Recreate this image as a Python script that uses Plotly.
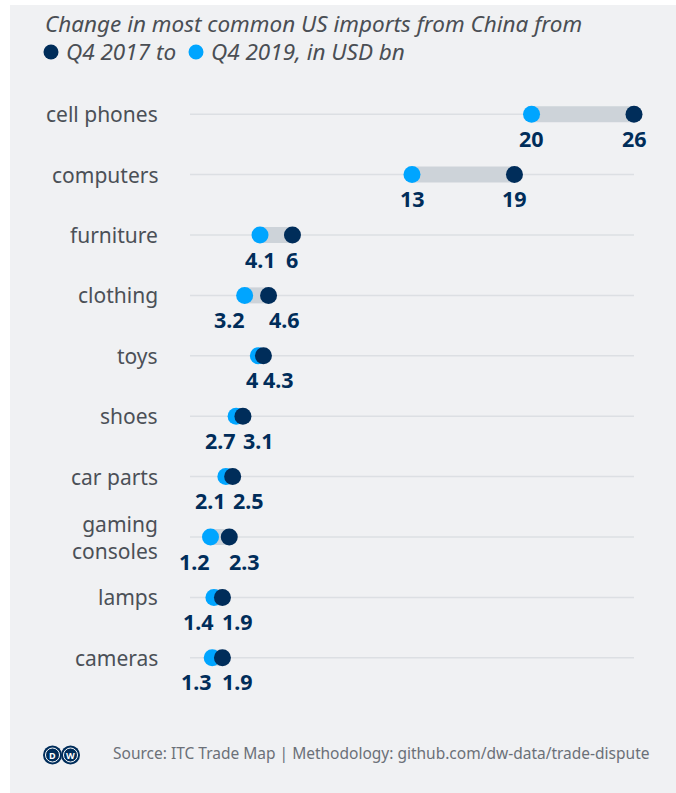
import plotly.graph_objects as go

# ---- data (USD bn) ----
categories = ["cell phones", "computers", "furniture", "clothing", "toys",
              "shoes", "car parts", "gaming<br>consoles", "lamps", "cameras"]
q4_2017 = [26, 19, 6, 4.6, 4.3, 3.1, 2.5, 2.3, 1.9, 1.9]
q4_2019 = [20, 13, 4.1, 3.2, 4, 2.7, 2.1, 1.2, 1.4, 1.3]
x_max = 26

# ---- styling ----
W, H = 676, 793
ML, MR, MT, MB = 190, 42, 84, 105
PANEL = "#f0f1f3"
NAVY = "#002d5a"
LIGHT = "#00a5ff"
BAR = "#cdd3d9"
GRID = "#dcdfe3"
LABEL_GREY = "#4b5057"
FONT = "Noto Sans"

PW, PH = W - ML - MR, H - MT - MB


def px_x(px):
    return (px - ML) / PW


def px_y(py):
    return (H - MB - py) / PH


def dot(cx, cy, r, color):
    return dict(type="circle", xref="paper", yref="paper",
                x0=px_x(cx - r), x1=px_x(cx + r),
                y0=px_y(cy + r), y1=px_y(cy - r),
                fillcolor=color, line=dict(width=0))


rows = list(range(len(categories)))

fig = go.Figure()

# connector bars between the two quarters
bx, by = [], []
for i in rows:
    bx += [q4_2019[i], q4_2017[i], None]
    by += [i, i, None]
fig.add_trace(go.Scatter(x=bx, y=by, mode="lines",
                         line=dict(color=BAR, width=16),
                         hoverinfo="skip", showlegend=False))

fig.add_trace(go.Scatter(x=q4_2019, y=rows, mode="markers", name="Q4 2019",
                         marker=dict(color=LIGHT, size=17, line=dict(width=0)),
                         cliponaxis=False, showlegend=False))
fig.add_trace(go.Scatter(x=q4_2017, y=rows, mode="markers", name="Q4 2017",
                         marker=dict(color=NAVY, size=17, line=dict(width=0)),
                         cliponaxis=False, showlegend=False))

shapes = [
    dict(type="rect", xref="paper", yref="paper",
         x0=px_x(10), x1=px_x(W + 5), y0=px_y(5), y1=px_y(H + 5),
         fillcolor=PANEL, line=dict(width=0), layer="below"),
]
for i in rows:
    shapes.append(dict(type="line", xref="x", yref="y", x0=0, x1=x_max,
                       y0=i, y1=i, line=dict(color=GRID, width=1.5),
                       layer="below"))

annotations = []
# category labels
for i, c in enumerate(categories):
    annotations.append(dict(xref="paper", yref="y", x=px_x(160), y=i,
                            text=c, showarrow=False, xanchor="right",
                            yanchor="middle", align="right",
                            font=dict(family=FONT, size=21, color=LABEL_GREY)))

# value labels under the dots; push apart when the dots are close
for i in rows:
    a, b = q4_2019[i], q4_2017[i]
    close = abs(b - a) < 1.6
    for v, anchor, shift in ((a, "right" if close else "center", 2 if close else 0),
                             (b, "left" if close else "center", -2 if close else 0)):
        annotations.append(dict(xref="x", yref="y", x=v, y=i,
                                text=f"<b>{v:g}</b>", showarrow=False,
                                xanchor=anchor, yanchor="middle",
                                xshift=shift, yshift=-24,
                                font=dict(family=FONT, size=21.5, color=NAVY)))

# headline with colour-key dots
title_font = dict(family=FONT, size=22.5, color="#4a4e54")
annotations.append(dict(xref="paper", yref="paper", x=px_x(43), y=px_y(24),
                        text="<i>Change in most common US imports from China from</i>",
                        showarrow=False, xanchor="left", yanchor="middle",
                        font=title_font))
shapes.append(dot(51, 52, 7.5, NAVY))
annotations.append(dict(xref="paper", yref="paper", x=px_x(64), y=px_y(52),
                        text="<i>Q4 2017 to</i>",
                        showarrow=False, xanchor="left", yanchor="middle",
                        font=title_font))
shapes.append(dot(196, 52, 7.5, LIGHT))
annotations.append(dict(xref="paper", yref="paper", x=px_x(209), y=px_y(52),
                        text="<i>Q4 2019, in USD bn</i>",
                        showarrow=False, xanchor="left", yanchor="middle",
                        font=title_font))

# footer: logo and source line
for cx, letter in ((52.5, "D"), (70.5, "W")):
    shapes.append(dot(cx, 755, 9.5, NAVY))
    shapes.append(dict(type="circle", xref="paper", yref="paper",
                       x0=px_x(cx - 7), x1=px_x(cx + 7),
                       y0=px_y(755 + 7), y1=px_y(755 - 7),
                       fillcolor="rgba(0,0,0,0)", line=dict(color="white", width=1)))
    annotations.append(dict(xref="paper", yref="paper", x=px_x(cx), y=px_y(755),
                            text=f"<b>{letter}</b>", showarrow=False,
                            xanchor="center", yanchor="middle",
                            font=dict(family=FONT, size=9, color="white")))
annotations.append(dict(xref="paper", yref="paper", x=px_x(111), y=px_y(753),
                        text="Source: ITC Trade Map | Methodology: github.com/dw-data/trade-dispute",
                        showarrow=False, xanchor="left", yanchor="middle",
                        font=dict(family=FONT, size=15.5, color="#6b7078")))

fig.update_layout(
    width=W, height=H,
    margin=dict(l=ML, r=MR, t=MT, b=MB, pad=0),
    paper_bgcolor="white", plot_bgcolor="rgba(0,0,0,0)",
    xaxis=dict(range=[0, x_max], visible=False, fixedrange=True),
    yaxis=dict(range=[len(categories) - 0.5, -0.5], visible=False, fixedrange=True),
    shapes=shapes, annotations=annotations,
    showlegend=False,
)

fig.write_html("out.html")
